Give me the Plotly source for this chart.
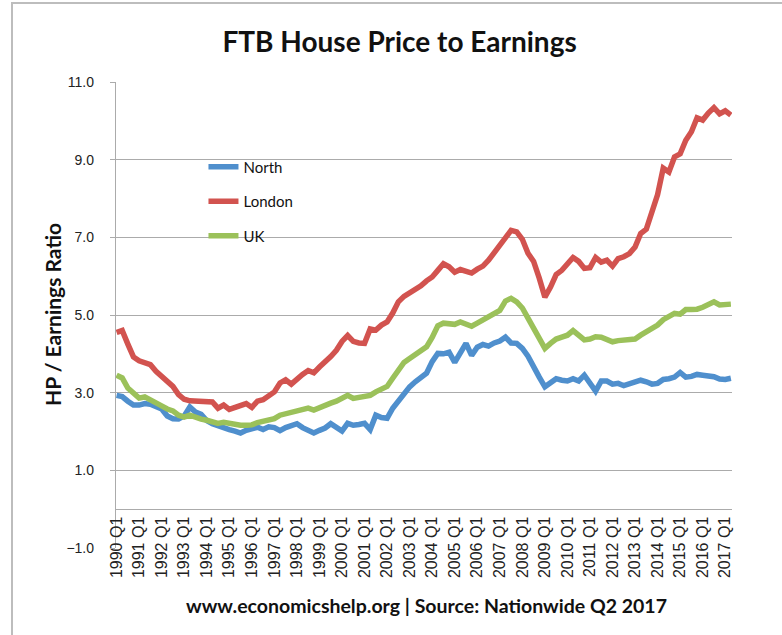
import plotly.graph_objects as go

# Quarterly periods 1990 Q1 .. 2017 Q2 (110 quarters)
quarters = [f"{y} Q{q}" for y in range(1990, 2018) for q in range(1, 5)][:110]
tick_labels = [f"{y} Q1" for y in range(1990, 2018)]

north = [2.93, 2.90, 2.78, 2.68, 2.68, 2.72, 2.70, 2.62, 2.58, 2.40,
         2.33, 2.32, 2.40, 2.63, 2.50, 2.44, 2.28, 2.20, 2.14, 2.10,
         2.05, 2.01, 1.96, 2.03, 2.06, 2.11, 2.05, 2.12, 2.10, 2.02,
         2.10, 2.14, 2.20, 2.10, 2.03, 1.96, 2.03, 2.09, 2.20, 2.10,
         2.01, 2.21, 2.16, 2.18, 2.21, 2.05, 2.42, 2.36, 2.34, 2.60,
         2.80, 3.00, 3.15, 3.28, 3.38, 3.50, 3.80, 4.01, 4.00, 4.04,
         3.78, 4.05, 4.27, 3.96, 4.17, 4.24, 4.20, 4.28, 4.33, 4.43,
         4.28, 4.27, 4.14, 3.94, 3.70, 3.40, 3.15, 3.25, 3.36, 3.32,
         3.30, 3.36, 3.30, 3.45, 3.22, 3.04, 3.30, 3.30, 3.22, 3.24,
         3.18, 3.22, 3.28, 3.32, 3.28, 3.22, 3.24, 3.34, 3.36, 3.40,
         3.52, 3.40, 3.42, 3.47, 3.45, 3.43, 3.41, 3.35, 3.34, 3.37]

london = [4.55, 4.60, 4.25, 3.92, 3.82, 3.77, 3.72, 3.55, 3.42, 3.30,
          3.16, 2.95, 2.83, 2.79, 2.78, 2.76, 2.77, 2.76, 2.60, 2.68,
          2.57, 2.62, 2.66, 2.72, 2.62, 2.78, 2.82, 2.92, 3.02, 3.25,
          3.33, 3.22, 3.36, 3.47, 3.57, 3.51, 3.66, 3.78, 3.93, 4.09,
          4.32, 4.47, 4.32, 4.28, 4.27, 4.64, 4.61, 4.74, 4.82, 5.05,
          5.34, 5.48, 5.56, 5.65, 5.75, 5.88, 5.98, 6.15, 6.32, 6.24,
          6.10, 6.17, 6.14, 6.08, 6.18, 6.26, 6.41, 6.60, 6.82, 6.98,
          7.18, 7.14, 6.95, 6.59, 6.38, 5.95, 5.46, 5.72, 6.04, 6.15,
          6.30, 6.48, 6.38, 6.20, 6.22, 6.48, 6.36, 6.41, 6.26, 6.45,
          6.50, 6.58, 6.75, 7.10, 7.21, 7.65, 8.10, 8.78, 8.68, 9.07,
          9.15, 9.50, 9.72, 10.08, 10.02, 10.20, 10.34, 10.18, 10.26, 10.15]

uk = [3.45, 3.38, 3.12, 2.98, 2.86, 2.89, 2.82, 2.76, 2.66, 2.58,
      2.53, 2.42, 2.37, 2.42, 2.36, 2.32, 2.29, 2.26, 2.21, 2.24,
      2.21, 2.18, 2.16, 2.16, 2.17, 2.23, 2.27, 2.29, 2.33, 2.42,
      2.46, 2.50, 2.54, 2.58, 2.60, 2.55, 2.62, 2.68, 2.73, 2.78,
      2.84, 2.93, 2.85, 2.87, 2.90, 2.93, 3.02, 3.08, 3.16, 3.37,
      3.58, 3.78, 3.88, 3.98, 4.06, 4.18, 4.42, 4.72, 4.79, 4.79,
      4.76, 4.82, 4.76, 4.71, 4.79, 4.88, 4.95, 5.03, 5.12, 5.36,
      5.43, 5.34, 5.18, 4.92, 4.66, 4.40, 4.14, 4.27, 4.38, 4.43,
      4.48, 4.60, 4.48, 4.36, 4.38, 4.44, 4.43, 4.38, 4.31, 4.34,
      4.35, 4.37, 4.38, 4.48, 4.56, 4.65, 4.74, 4.88, 4.97, 5.04,
      5.02, 5.14, 5.14, 5.15, 5.20, 5.28, 5.34, 5.26, 5.26, 5.28]

series = [("North", north, "#4F8FCD"),
          ("London", london, "#D2534F"),
          ("UK", uk, "#9BC15A")]

idx = list(range(len(quarters)))
tick_idx = [quarters.index(t) for t in tick_labels if t in quarters]

fig = go.Figure()
for name, vals, col in series:
    fig.add_trace(go.Scatter(
        x=idx, y=vals, name=name, mode="lines", legendgroup=name,
        line=dict(color=col, width=5.5),
        customdata=[quarters[i] for i in idx],
        hovertemplate="%{customdata}: %{y:.2f}<extra>" + name + "</extra>",
    ))

grid = "#ABABAB"
fig.update_layout(
    width=782, height=635,
    margin=dict(l=116, r=50, t=82, b=87),
    paper_bgcolor="white", plot_bgcolor="white",
    font=dict(family="Liberation Sans, Arial, sans-serif", color="#222222"),
    title=dict(text="<b>FTB House Price to Earnings</b>",
               font=dict(family="Lato, sans-serif", size=28, color="#111111"),
               x=0.511, xanchor="center", y=1 - 42 / 635, yanchor="middle"),
    showlegend=True,
    legend=dict(x=0.142, y=0.853, xanchor="left", yanchor="top",
                bgcolor="rgba(0,0,0,0)", tracegroupgap=12,
                font=dict(family="Lato, sans-serif", size=15, color="#111111")),
    xaxis=dict(range=[-0.1, 109.2], tickmode="array", tickvals=tick_idx,
               ticktext=tick_labels, tickangle=-90,
               tickfont=dict(size=16, family="Liberation Sans, Arial, sans-serif", color="#222222"),
               showgrid=False, zeroline=False, showline=True, linecolor=grid,
               linewidth=1.3, anchor="free", position=1 / 12, ticks=""),
    yaxis=dict(range=[-1, 11], tickvals=[-1, 1, 3, 5, 7, 9, 11], tickformat=".1f",
               tickfont=dict(size=14, family="Liberation Sans, Arial, sans-serif", color="#222222"),
               showgrid=True, gridcolor=grid, gridwidth=1.3, zeroline=False,
               showline=True, linecolor=grid, linewidth=1.3,
               ticks="outside", ticklen=5, tickcolor=grid, ticklabelstandoff=13),
)

# outer chart frame
fig.add_shape(type="rect", xref="paper", yref="paper",
              x0=(12 - 116) / 616, x1=1.2, y0=-0.3, y1=1 + (82 - 3) / 466,
              line=dict(color="#BDBDBD", width=2), fillcolor="rgba(0,0,0,0)", layer="below")

# y-axis title
fig.add_annotation(text="<b>HP / Earnings Ratio</b>", textangle=-90,
                   xref="paper", yref="paper", x=(52 - 116) / 616, y=(548 - 315) / 466,
                   xanchor="center", yanchor="middle", showarrow=False,
                   font=dict(family="Lato, sans-serif", size=21, color="#111111"))

fig.add_annotation(text="<b>www.economicshelp.org | Source: Nationwide Q2 2017</b>",
                   xref="paper", yref="paper", x=(426 - 116) / 616, y=-(605 - 548) / 466,
                   xanchor="center", yanchor="middle", showarrow=False,
                   font=dict(family="Lato, sans-serif", size=19.5, color="#111111"))

fig.write_html("out.html", config={"displayModeBar": False},
               post_script="document.body.style.margin='0';")
